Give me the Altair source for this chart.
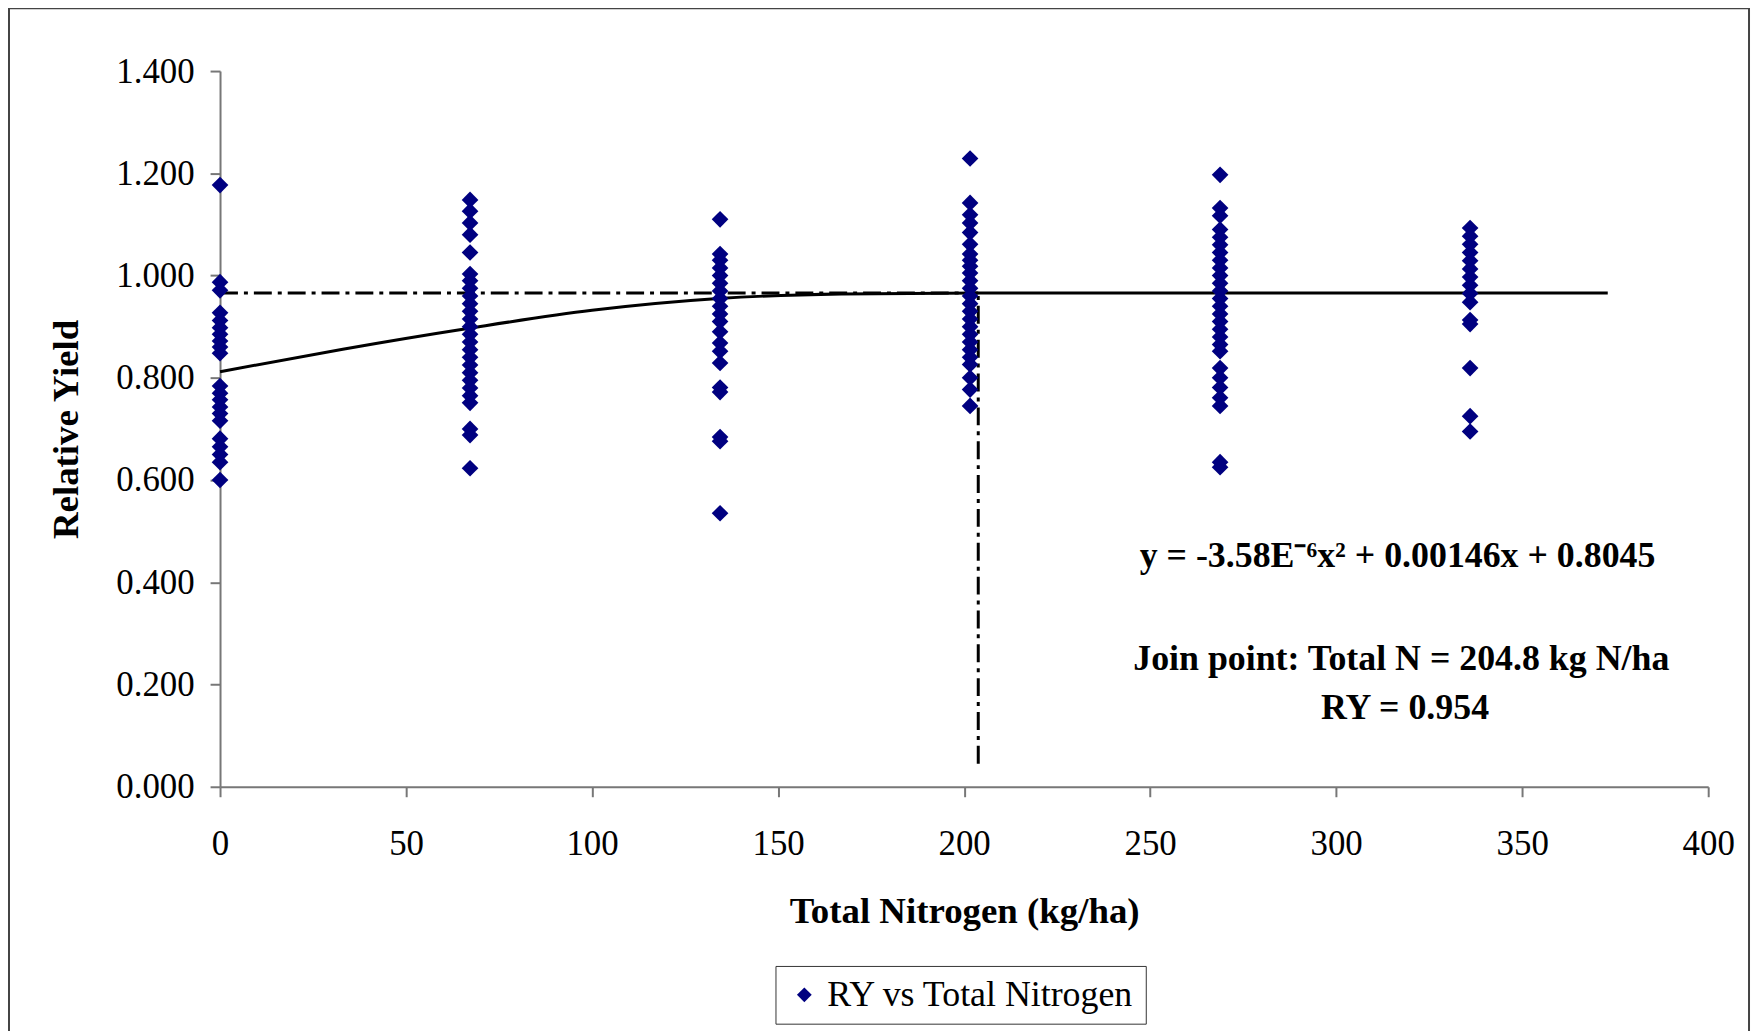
import altair as alt
import pandas as pd

# ---- data ----
N_LEVELS = [0, 67.2, 134.4, 201.6, 268.8, 336.0]
RY_0 = [1.177, 0.987, 0.971, 0.927, 0.912, 0.898, 0.885, 0.872, 0.860, 0.848,
        0.784, 0.770, 0.757, 0.743, 0.730, 0.716, 0.681, 0.665, 0.650, 0.635, 0.600]
RY_67 = [1.148, 1.126, 1.103, 1.080, 1.045, 1.003, 0.990, 0.975, 0.960, 0.945,
         0.930, 0.915, 0.900, 0.885, 0.870, 0.855, 0.840, 0.825, 0.810, 0.795,
         0.780, 0.765, 0.751, 0.700, 0.688, 0.623]
RY_134 = [1.110, 1.042, 1.030, 1.015, 1.000, 0.985, 0.970, 0.955, 0.940, 0.925,
          0.910, 0.890, 0.868, 0.852, 0.829, 0.781, 0.772, 0.684, 0.676, 0.535]
RY_202 = [1.229, 1.142, 1.119, 1.103, 1.084, 1.061, 1.042, 1.030, 1.018, 1.005,
          0.990, 0.975, 0.960, 0.945, 0.930, 0.915, 0.900, 0.885, 0.870, 0.855,
          0.840, 0.826, 0.800, 0.777, 0.745]
RY_269 = [1.197, 1.132, 1.117, 1.090, 1.075, 1.060, 1.045, 1.030, 1.015, 1.000,
          0.985, 0.970, 0.955, 0.940, 0.925, 0.910, 0.895, 0.880, 0.865, 0.852,
          0.819, 0.800, 0.781, 0.761, 0.745, 0.635, 0.625]
RY_336 = [1.093, 1.077, 1.061, 1.045, 1.029, 1.013, 0.997, 0.981, 0.965, 0.948,
          0.913, 0.905, 0.819, 0.725, 0.695]
SERIES_NAME = "RY vs Total Nitrogen"

FIT_X = [0, 33, 67, 100, 134, 167, 204, 373]
FIT_Y = [0.812, 0.856, 0.897, 0.932, 0.955, 0.964, 0.966, 0.966]
JOIN_N = 203.8
PLATEAU = 0.966
VLINE_BOTTOM = 0.045

X_TICKS = [0, 50, 100, 150, 200, 250, 300, 350, 400]
Y_TICKS = [0, 0.2, 0.4, 0.6, 0.8, 1.0, 1.2, 1.4]

EQUATION = "y = -3.58E\u207b\u2076x\u00b2 + 0.00146x + 0.8045"
JOIN_TEXT = "Join point: Total N = 204.8 kg N/ha"
RY_TEXT = "RY = 0.954"
ANN_X = [316.5, 317.5, 318.5]
ANN_Y = [0.452, 0.249, 0.154]

rows = []
for n, vals in zip(N_LEVELS, [RY_0, RY_67, RY_134, RY_202, RY_269, RY_336]):
    for v in vals:
        rows.append({"N": n, "RY": v, "series": SERIES_NAME})
pts_df = pd.DataFrame(rows)
fit_df = pd.DataFrame({"N": FIT_X, "RY": FIT_Y})
hline_df = pd.DataFrame({"x1": [0], "x2": [JOIN_N], "y": [PLATEAU]})
vline_df = pd.DataFrame({"x": [JOIN_N], "y1": [VLINE_BOTTOM], "y2": [PLATEAU]})
ann_df = pd.DataFrame({"x": ANN_X, "y": ANN_Y, "t": [EQUATION, JOIN_TEXT, RY_TEXT]})

FONT = "Liberation Serif"
xs = alt.Scale(domain=[0, 400], nice=False, zero=False)
ys = alt.Scale(domain=[0, 1.4], nice=False)

border = alt.Chart(pd.DataFrame({"a": [0]})).mark_rect(
    fillOpacity=0, stroke="#444444", strokeWidth=2
).encode(x=alt.value(-212), x2=alt.value(1536), y=alt.value(-63), y2=alt.value(1100))

points = alt.Chart(pts_df).mark_point(
    shape="diamond", filled=True, size=280, opacity=1
).encode(
    x=alt.X("N:Q", scale=xs, axis=alt.Axis(
        values=X_TICKS, title="Total Nitrogen (kg/ha)", labelPadding=30, titlePadding=32,
        grid=False, format="d", labelFlush=False)),
    y=alt.Y("RY:Q", scale=ys, axis=alt.Axis(
        values=Y_TICKS, format=".3f", title="Relative Yield", labelPadding=16,
        titlePadding=30, grid=False)),
    color=alt.Color("series:N", scale=alt.Scale(range=["#000080"]), legend=alt.Legend(
        title=None, orient="none", legendX=558, legendY=899, strokeColor="#333333",
        fillColor="white", padding=11, labelFont=FONT, labelFontSize=36,
        labelColor="black", symbolType="diamond", symbolSize=220, symbolStrokeWidth=0,
        labelOffset=5, labelLimit=0)),
)

fit = alt.Chart(fit_df).mark_line(color="black", strokeWidth=3, interpolate="monotone").encode(
    x=alt.X("N:Q", scale=xs), y=alt.Y("RY:Q", scale=ys))

hline = alt.Chart(hline_df).mark_rule(color="black", strokeWidth=3, strokeDash=[18, 6, 4, 6]).encode(
    x=alt.X("x1:Q", scale=xs), x2="x2:Q", y=alt.Y("y:Q", scale=ys))

vline = alt.Chart(vline_df).mark_rule(color="black", strokeWidth=3, strokeDash=[18, 6, 4, 6]).encode(
    x=alt.X("x:Q", scale=xs), y=alt.Y("y1:Q", scale=ys), y2="y2:Q")

ann = alt.Chart(ann_df).mark_text(
    font=FONT, fontSize=36, fontWeight="bold", color="black", align="center", baseline="middle"
).encode(x=alt.X("x:Q", scale=xs), y=alt.Y("y:Q", scale=ys), text="t:N")

chart = alt.layer(border, fit, hline, vline, points, ann).properties(
    width=1495, height=719,
    autosize=alt.AutoSizeParams(type="none"),
    padding={"left": 213, "top": 61, "right": 44, "bottom": 243},
).configure_view(strokeWidth=0).configure_axis(
    labelFont=FONT, labelFontSize=35, labelColor="black",
    titleFont=FONT, titleFontSize=37, titleFontWeight="bold", titleColor="black",
    domainColor="#777777", domainWidth=2, tickColor="#777777", tickWidth=2, tickSize=10,
)

chart.save("out.html", embed_options={"renderer": "svg", "actions": False})
